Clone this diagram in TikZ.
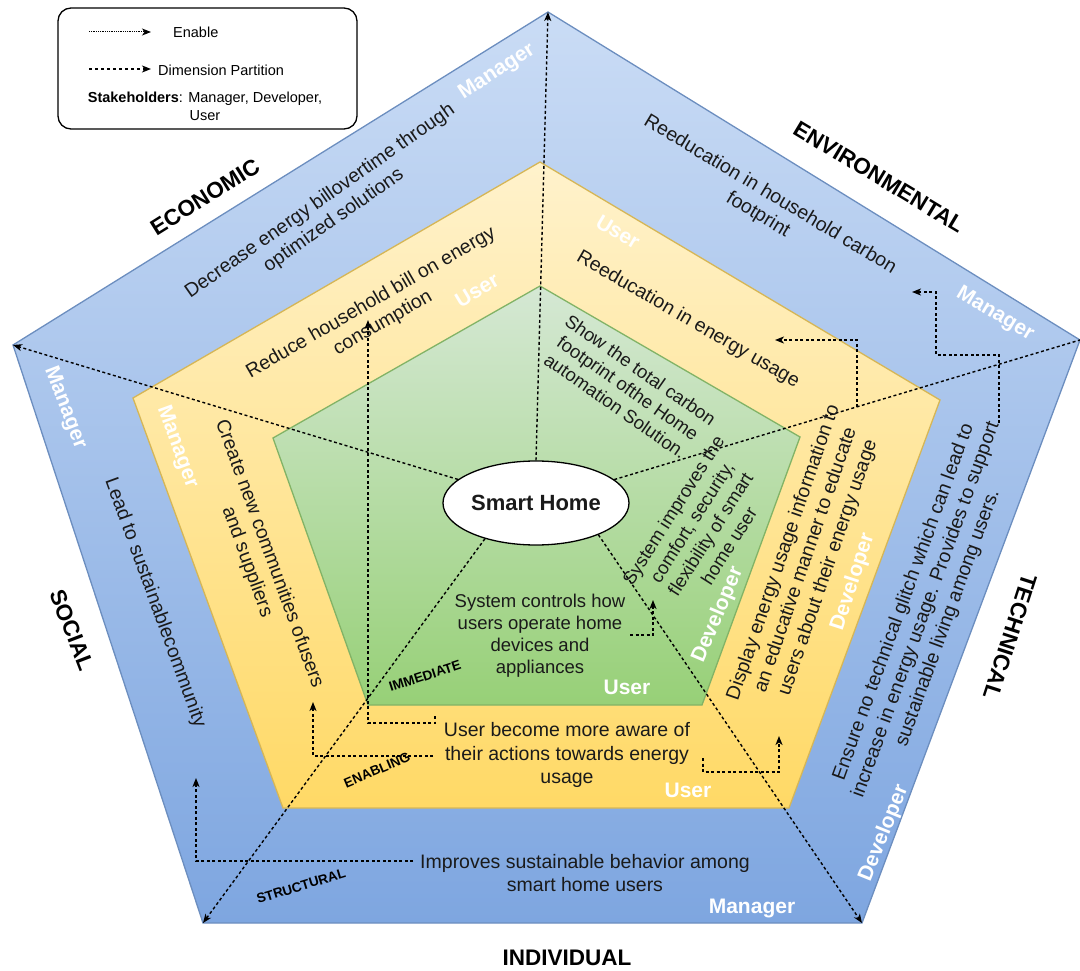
\documentclass[tikz,border=0pt]{standalone}
\usepackage{fontspec}
\setmainfont{Liberation Sans}
\usetikzlibrary{arrows.meta,shapes.geometric}

\definecolor{blueTop}{HTML}{CADCF5}
\definecolor{blueBot}{HTML}{7EA6E0}
\definecolor{blueLine}{HTML}{6C8EBF}
\definecolor{yelTop}{HTML}{FFF2CC}
\definecolor{yelBot}{HTML}{FFD966}
\definecolor{yelLine}{HTML}{D6B656}
\definecolor{grnTop}{HTML}{D5E8D4}
\definecolor{grnBot}{HTML}{97D077}
\definecolor{grnLine}{HTML}{82B366}
\definecolor{txt}{HTML}{1A1A1A}

\begin{document}
\begin{tikzpicture}[x=1pt,y=-1pt,
  every node/.style={inner sep=0pt, text=txt},
  body/.style={align=center, font=\fontsize{19.5}{23.5}\selectfont},
  gbody/.style={align=center, font=\fontsize{18.5}{22}\selectfont},
  dimlabel/.style={font=\fontsize{22.5}{26}\selectfont\bfseries, text=black},
  stake/.style={font=\fontsize{21}{24}\selectfont\bfseries, text=white},
  lvl/.style={font=\fontsize{13.5}{16}\selectfont\bfseries, text=black},
  legtext/.style={font=\fontsize{14.5}{18}\selectfont, text=black},
  arrowtip/.style={-{Stealth[length=9pt,width=7pt,inset=2.5pt]}},
  part/.style={draw=black, line width=1.4pt, dash pattern=on 3pt off 2.5pt, arrowtip},
  partplain/.style={draw=black, line width=1.4pt, dash pattern=on 3pt off 2.5pt},
  enable/.style={draw=black, line width=1.4pt, dash pattern=on 3pt off 2.5pt, arrowtip},
  layer/.style={line width=1.3pt},
]
\useasboundingbox (0,0) rectangle (1080,971);

% ---------- pentagon corners ----------
\coordinate (bT) at (548,12);   \coordinate (bL) at (13,345);
\coordinate (bR) at (1080,340); \coordinate (bBL) at (203,923);
\coordinate (bBR) at (862,923);
\coordinate (yT) at (540,162);  \coordinate (yL) at (133,398);
\coordinate (yR) at (940,400);  \coordinate (yBL) at (283,808);
\coordinate (yBR) at (789,808);
\coordinate (gT) at (540,286);  \coordinate (gL) at (273,438);
\coordinate (gR) at (800,437);  \coordinate (gBL) at (368,705);
\coordinate (gBR) at (702,705);

% ---------- nested layers ----------
\draw[layer, draw=blueLine, top color=blueTop, bottom color=blueBot]
  (bT) -- (bR) -- (bBR) -- (bBL) -- (bL) -- cycle;
\draw[layer, draw=yelLine, top color=yelTop, bottom color=yelBot]
  (yT) -- (yR) -- (yBR) -- (yBL) -- (yL) -- cycle;
\draw[layer, draw=grnLine, top color=grnTop, bottom color=grnBot]
  (gT) -- (gR) -- (gBR) -- (gBL) -- (gL) -- cycle;

% ---------- centre ----------
\node[ellipse, draw=black, line width=1.3pt, fill=white,
      minimum width=186pt, minimum height=84pt,
      font=\fontsize{22}{26}\selectfont\bfseries] (sh) at (536,503) {Smart Home};

% ---------- dimension partition lines ----------
\draw[part] (sh.north) -- (bT);
\draw[part] (sh) -- (bL);
\draw[partplain] (sh) -- (bR);
\draw[part] (sh.215) -- (bBL);
\draw[part] (sh.333) -- (bBR);

% ---------- dimensions ----------
\node[dimlabel, rotate=32]   (econ) at (205,197) {ECONOMIC};
\node[dimlabel, rotate=-31]  (envi) at (879,177) {ENVIRONMENTAL};
\node[dimlabel, rotate=-69]  (soci) at (72,630)  {SOCIAL};
\node[dimlabel, rotate=-108] (tech) at (1010,637) {TECHNICAL};
\node[dimlabel]              (indi) at (567,958) {INDIVIDUAL};

% ---------- levels ----------
\node[lvl, rotate=18] (lvI) at (425,676) {IMMEDIATE};
\node[lvl, rotate=23] (lvE) at (377,770) {ENABLING};
\node[lvl, rotate=17] (lvS) at (301,886) {STRUCTURAL};

% ---------- outer (structural) layer ----------
\node[body, rotate=35]  (dec) at (327,211)
  {Decrease energy billovertime through\\optimized solutions};
\node[body, rotate=-31] (rhc) at (764,205)
  {Reeducation in household carbon\\footprint};
\node[body, rotate=-70] (lsc) at (155,603) {Lead to sustainablecommunity};
\node[body] (isb) at (585,873) {Improves sustainable behavior among\\smart home users};
\node[body, rotate=70] (ens) at (926,610)
  {Ensure no technical glitch which can lead to\\increase in energy usage. Provides to support\\sustainable living among users.};

\node[stake, rotate=33]  (mB1) at (497,72)  {Manager};
\node[stake, rotate=-31] (mB2) at (995,314) {Manager};
\node[stake, rotate=-69] (mB3) at (65,408)  {Manager};
\node[stake]             (mB4) at (752,908) {Manager};
\node[stake, rotate=68]  (dB1) at (884,833) {Developer};

% ---------- middle (enabling) layer ----------
\node[body, rotate=30]  (rhb) at (377,313)
  {Reduce household bill on energy\\consumption};
\node[body, rotate=-30] (reu) at (688,320) {Reeducation in energy usage};
\node[body, rotate=-70] (cnc) at (258,558)
  {Create new communities ofusers\\and suppliers};
\node[body] (uaw) at (567,755)
  {User become more aware of\\their actions towards energy\\usage};
\node[body, rotate=71] (deu) at (806,560)
  {Display energy usage information to\\an educative manner to educate\\users about their energy usage};

\node[stake, rotate=-31] (uY1) at (618,232) {User};
\node[stake, rotate=31]  (uY2) at (477,290) {User};
\node[stake, rotate=-70] (mY1) at (177,447) {Manager};
\node[stake, rotate=72]  (dY1) at (853,582) {Developer};
\node[stake]             (uY3) at (688,790) {User};

% ---------- inner (immediate) layer ----------
\node[gbody, rotate=-35] (stc) at (628,388)
  {Show the total carbon\\footprint ofthe Home\\automation Solution.};
\node[gbody, rotate=57.5] (sic) at (701,528)
  {System improves the\\comfort, security,\\flexibility of smart\\home user};
\node[gbody] (scu) at (540,636)
  {System controls how\\users operate home\\devices and\\appliances};

\node[stake]            (uG1) at (627,687) {User};
\node[stake, rotate=67] (dG1) at (718,615) {Developer};

% ---------- enable connectors ----------
\coordinate (aS) at (435,716);  \coordinate (aE) at (368,320);
\coordinate (bS) at (433,756);  \coordinate (bE) at (313,702);
\coordinate (cS) at (413,861);  \coordinate (cE) at (196,778);
\coordinate (dS) at (703,758);  \coordinate (dE) at (779,736);
\coordinate (eS) at (630,635);  \coordinate (eE) at (653,600);
\coordinate (fS) at (857,407);  \coordinate (fE) at (775,340);
\coordinate (gS) at (999,423);  \coordinate (gM) at (936,355);
\coordinate (gE) at (912,292);

\draw[enable] (aS) -- ++(0,7) -| (aE);
\draw[enable] (bS) -| (bE);
\draw[enable] (cS) -| (cE);
\draw[enable] (dS) -- ++(0,14) -| (dE);
\draw[enable] (eS) -| (eE);
\draw[enable] (fS) |- (fE);
\draw[enable] (gS) |- (gM) |- (gE);

% ---------- legend ----------
\node[draw=black, line width=1.3pt, rounded corners=13pt, fill=white,
      minimum width=299pt, minimum height=121pt] (leg) at (207.5,68.5) {};
\coordinate (l1S) at (89,32);  \coordinate (l1E) at (151,32);
\coordinate (l2S) at (89,69);  \coordinate (l2E) at (151,69);
\draw[line width=1pt, dash pattern=on 1pt off 0.8pt, arrowtip] (l1S) -- (l1E);
\draw[line width=1.4pt, dash pattern=on 3pt off 3pt, arrowtip] (l2S) -- (l2E);
\node[legtext, anchor=west] (lgE) at (173,32) {Enable};
\node[legtext, anchor=west] (lgP) at (158,70) {Dimension Partition};
\node[legtext, align=center, font=\fontsize{14.5}{18}\selectfont] (lgS) at (205,106)
  {\textbf{Stakeholders}: Manager, Developer,\\User};
\end{tikzpicture}
\end{document}
